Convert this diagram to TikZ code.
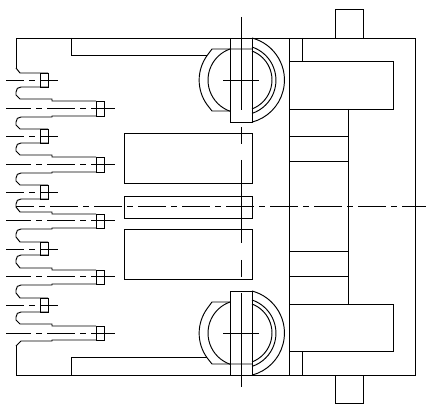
\documentclass[tikz,border=0pt]{standalone}
\usepackage{amsmath}
\tikzset{
	part/.style={line width=0.95pt, black},
	axisline/.style={line width=0.95pt, black, dash pattern=on 28pt off 5pt on 6pt off 5pt},
}
\begin{document}
\begin{tikzpicture}[x=1pt,y=-1pt]

	\useasboundingbox (0,0) rectangle (426,406);

	% housing
	\draw[part] (16,68) -- (16,38) -- (415,38) -- (415,375) -- (16,375) -- (16,346);
	\draw[part] (335,38) -- (335,9.5) -- (363,9.5) -- (363,38);
	\draw[part] (335,375) -- (335,403) -- (363,403) -- (363,375);
	\draw[part] (71,38) -- (71,55.7) -- (207,55.7);
	\draw[part] (71,375) -- (71,357.7) -- (207,357.7);

	% contour of the pins
	\draw[part] (16,68) -- (20,73) -- (48,73);
	\draw[part] (48,87) -- (21,87) .. controls (18,87) and (16,89) .. (16,92) -- (16,95) -- (20,99) -- (52,99) -- (52,101) -- (96,101);
	\draw[part] (96,116) -- (52,116) -- (52,117) -- (21,117) .. controls (18,117) and (16,119) .. (16,122) -- (16,125) -- (20,129) -- (48,129);
	\draw[part] (48,143) -- (21,143) .. controls (18,143) and (16,145) .. (16,148) -- (16,151) -- (20,155) -- (52,155) -- (52,157) -- (96,157);
	\draw[part] (96,172) -- (52,172) -- (52,173) -- (21,173) .. controls (18,173) and (16,175) .. (16,178) -- (16,181) -- (20,185) -- (48,185);
	\draw[part] (48,199) -- (21,199) .. controls (18,199) and (16,201) .. (16,204) -- (16,207) -- (20,212) -- (52,212) -- (52,214) -- (96,214);
	\draw[part] (96,228) -- (52,228) -- (52,229) -- (21,229) .. controls (18,229) and (16,231) .. (16,234) -- (16,237) -- (20,242) -- (48,242);
	\draw[part] (48,255) -- (21,255) .. controls (18,255) and (16,257) .. (16,260) -- (16,263) -- (20,268) -- (52,268) -- (52,270) -- (96,270);
	\draw[part] (96,284) -- (52,284) -- (52,285) -- (21,285) .. controls (18,285) and (16,287) .. (16,290) -- (16,293) -- (20,298) -- (48,298);
	\draw[part] (48,312) -- (21,312) .. controls (18,312) and (16,314) .. (16,317) -- (16,320) -- (20,324) -- (52,324) -- (52,326) -- (96,326);
	\draw[part] (96,340) -- (52,340) -- (52,341) -- (21,341) -- (16,346);

	% pin ends
	\draw[part] (40,73) rectangle (48,87);
	\draw[part] (40,129) rectangle (48,143);
	\draw[part] (40,185) rectangle (48,199);
	\draw[part] (40,242) rectangle (48,255);
	\draw[part] (40,298) rectangle (48,312);
	\draw[part] (96,101) rectangle (104,116);
	\draw[part] (96,157) rectangle (104,172);
	\draw[part] (96,214) rectangle (104,228);
	\draw[part] (96,270) rectangle (104,284);
	\draw[part] (96,326) rectangle (104,340);

	% pin axes
	\draw[axisline, dash phase=10pt] (6,80) -- (58,80);
	\draw[axisline, dash phase=10pt] (6,136) -- (58,136);
	\draw[axisline, dash phase=10pt] (6,192) -- (58,192);
	\draw[axisline, dash phase=10pt] (6,249) -- (58,249);
	\draw[axisline, dash phase=10pt] (6,305) -- (58,305);
	\draw[axisline, dash phase=3pt] (6,108) -- (115,108);
	\draw[axisline, dash phase=3pt] (6,164) -- (115,164);
	\draw[axisline, dash phase=3pt] (6,220.7) -- (115,220.7);
	\draw[axisline, dash phase=3pt] (6,276.7) -- (115,276.7);
	\draw[axisline, dash phase=3pt] (6,333) -- (115,333);

	% middle blocks
	\draw[part] (124.3,133) rectangle (252,183);
	\draw[part] (124.3,196) rectangle (252,218);
	\draw[part] (124.3,229) rectangle (252,279);
	\draw[axisline, dash phase=10pt] (16,206.7) -- (426,206.7);

	% upper screw
	\draw[part] (230,38) rectangle (252,122);
	\draw[part] (252,49) -- (212,49) -- (207,55.7) arc[start angle=215.6, end angle=144.4, radius=42] -- (212,111) -- (230,111);
	\draw[part] (230,49) arc[start angle=250.5, end angle=109.5, radius=33];
	\draw[part] (252,38) arc[start angle=-75.3, end angle=75.3, radius=43.5];
	\draw[part] (252,47) arc[start angle=-71.6, end angle=71.6, radius=35];
	\draw[part] (252,51) arc[start angle=-69.2, end angle=69.2, radius=31];
	\draw[part] (223,80) -- (259,80);

	% lower screw
	\draw[part] (230,291) rectangle (252,375);
	\draw[part] (252,364) -- (212,364) -- (207,357.7) arc[start angle=144.4, end angle=215.6, radius=42] -- (212,302) -- (230,302);
	\draw[part] (230,302) arc[start angle=250.5, end angle=109.5, radius=33];
	\draw[part] (252,291) arc[start angle=-75.3, end angle=75.3, radius=43.5];
	\draw[part] (252,300) arc[start angle=-71.6, end angle=71.6, radius=35];
	\draw[part] (252,304) arc[start angle=-69.2, end angle=69.2, radius=31];
	\draw[part] (223,333) -- (259,333);

	% vertical axis
	\draw[part] (241,17) -- (241,110);
	\draw[part] (241,127) -- (241,144);
	\draw[part] (241,160) -- (241,243);
	\draw[part] (241,260) -- (241,277);
	\draw[part] (241,293) -- (241,387);

	% right side
	\draw[part] (289,38) -- (289,375);
	\draw[part] (302,38) -- (302,61.7);
	\draw[part] (289,61.7) rectangle (393,109);
	\draw[part] (289,304) rectangle (393,351.7);
	\draw[part] (302,351.7) -- (302,375);
	\draw[part] (348.7,109) -- (348.7,304);
	\draw[part] (289,136.7) -- (348.7,136.7);
	\draw[part] (289,161.7) -- (348.7,161.7);
	\draw[part] (289,251.7) -- (348.7,251.7);
	\draw[part] (289,276) -- (348.7,276);

\end{tikzpicture}
\end{document}
